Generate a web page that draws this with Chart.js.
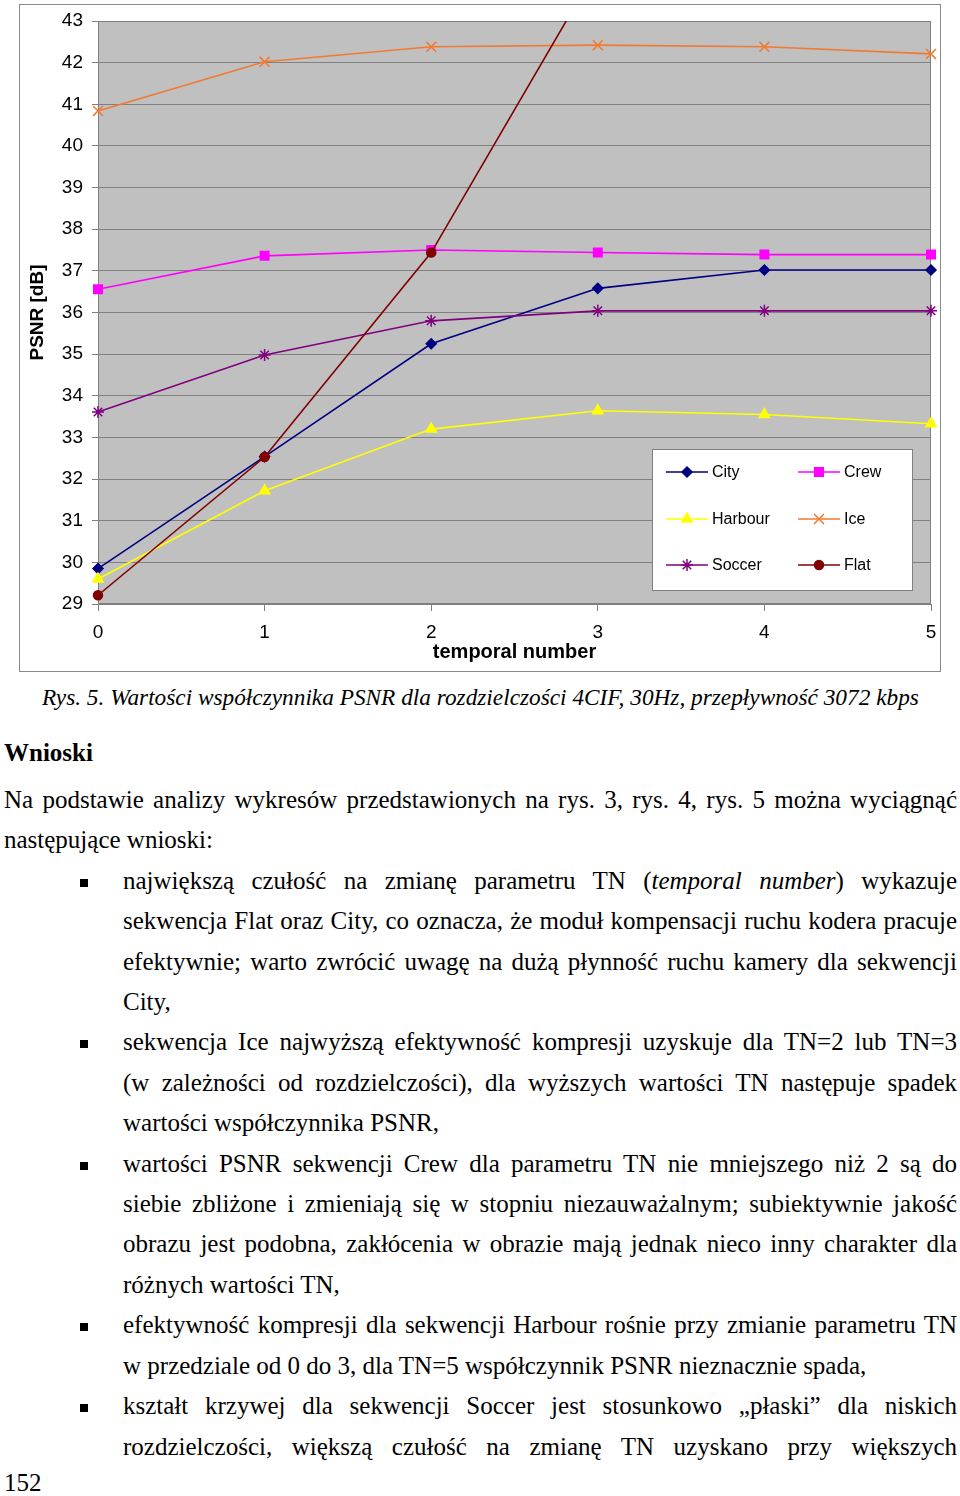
<!DOCTYPE html>
<html lang="pl">
<head>
<meta charset="UTF-8">
<title>PSNR 4CIF</title>
<script src="https://cdn.jsdelivr.net/npm/chart.js"></script>
<style>
  body { margin: 0; width: 960px; height: 1496px; position: relative; background: #fff; color: #000; }
  #chartBox { position: absolute; left: 19px; top: 4px; width: 922px; height: 668px; border: 1px solid #8a8a8a; box-sizing: border-box; background: #fff; }
  .serif { font-family: "Liberation Serif", "Times New Roman", serif; }
  .cap { position: absolute; left: 42px; top: 682px; font-style: italic; font-size: 23.3px; line-height: 30px; white-space: nowrap; }
  .head { position: absolute; left: 4px; top: 733px; font-weight: bold; font-size: 25px; line-height: 40px; }
  .txt { position: absolute; left: 4px; top: 780px; width: 953px; font-size: 25px; line-height: 40.4px; }
  .l { white-space: nowrap; }
  .j { text-align: justify; text-align-last: justify; }
  .in { padding-left: 119px; position: relative; }
  .bul::before { content: ""; position: absolute; left: 76px; top: 18px; width: 8px; height: 8px; background: #000; }
  .page { position: absolute; left: 4px; top: 1463px; font-size: 25px; line-height: 40px; }
</style>
</head>
<body>
<div id="chartBox"><canvas id="psnrChart"></canvas></div>

<div class="cap serif">Rys. 5. Wartości współczynnika PSNR dla rozdzielczości 4CIF, 30Hz, przepływność 3072 kbps</div>
<div class="head serif">Wnioski</div>
<div class="txt serif">
  <div class="l j">Na podstawie analizy wykresów przedstawionych na rys. 3, rys. 4, rys. 5 można wyciągnąć</div>
  <div class="l">następujące wnioski:</div>
  <div class="l j in bul">największą czułość na zmianę parametru TN (<i>temporal number</i>) wykazuje</div>
  <div class="l j in">sekwencja Flat oraz City, co oznacza, że moduł kompensacji ruchu kodera pracuje</div>
  <div class="l j in">efektywnie; warto zwrócić uwagę na dużą płynność ruchu kamery dla sekwencji</div>
  <div class="l in">City,</div>
  <div class="l j in bul">sekwencja Ice najwyższą efektywność kompresji uzyskuje dla TN=2 lub TN=3</div>
  <div class="l j in">(w zależności od rozdzielczości), dla wyższych wartości TN następuje spadek</div>
  <div class="l in">wartości współczynnika PSNR,</div>
  <div class="l j in bul">wartości PSNR sekwencji Crew dla parametru TN nie mniejszego niż 2 są do</div>
  <div class="l j in">siebie zbliżone i zmieniają się w stopniu niezauważalnym; subiektywnie jakość</div>
  <div class="l j in">obrazu jest podobna, zakłócenia w obrazie mają jednak nieco inny charakter dla</div>
  <div class="l in">różnych wartości TN,</div>
  <div class="l j in bul">efektywność kompresji dla sekwencji Harbour rośnie przy zmianie parametru TN</div>
  <div class="l in">w przedziale od 0 do 3, dla TN=5 współczynnik PSNR nieznacznie spada,</div>
  <div class="l j in bul">kształt krzywej dla sekwencji Soccer jest stosunkowo „płaski” dla niskich</div>
  <div class="l j in">rozdzielczości, większą czułość na zmianę TN uzyskano przy większych</div>
</div>
<div class="page serif">152</div>

<script>
  // dane (PSNR w dB dla TN = 0..5)
  const tnLabels = ['0', '1', '2', '3', '4', '5'];
  const city    = [29.85, 32.54, 35.25, 36.58, 37.02, 37.02];
  const crew    = [36.56, 37.36, 37.50, 37.44, 37.39, 37.39];
  const harbour = [29.60, 31.72, 33.20, 33.64, 33.55, 33.33];
  const ice     = [40.84, 42.02, 42.38, 42.42, 42.38, 42.21];
  const soccer  = [33.61, 34.98, 35.80, 36.04, 36.04, 36.04];
  const flat    = [29.21, 32.53, 37.44, 44.30, null, null];

  const sans = '"Liberation Sans", Arial, sans-serif';

  function series(label, data, color, pointStyle, radius, idx) {
    return {
      label: label,
      data: data,
      borderColor: color,
      backgroundColor: color,
      pointBackgroundColor: color,
      pointBorderColor: color,
      borderWidth: 1.6,
      pointStyle: pointStyle,
      pointRadius: radius,
      pointHoverRadius: radius,
      pointBorderWidth: 1.5,
      tension: 0,
      fill: false,
      order: 6 - idx
    };
  }

  // szare tło obszaru wykresu + ramka
  const plotBg = {
    id: 'plotBg',
    beforeDraw(chart) {
      const { ctx, chartArea: a } = chart;
      ctx.save();
      ctx.fillStyle = '#c0c0c0';
      ctx.fillRect(a.left, a.top, a.right - a.left, a.bottom - a.top);
      ctx.restore();
    },
    beforeDatasetsDraw(chart) {
      const { ctx, chartArea: a } = chart;
      ctx.save();
      ctx.strokeStyle = '#808080';
      ctx.lineWidth = 1;
      ctx.strokeRect(a.left + 0.5, a.top + 0.5, a.right - a.left - 1, a.bottom - a.top - 1);
      ctx.restore();
    }
  };

  // legenda w ramce, 2 kolumny
  const boxLegend = {
    id: 'boxLegend',
    afterDatasetsDraw(chart) {
      const { ctx, chartArea: a } = chart;
      const w = 261, h = 142;
      const x0 = a.right - 18 - w, y0 = a.bottom - 13 - h;
      ctx.save();
      ctx.fillStyle = '#fff';
      ctx.fillRect(x0, y0, w, h);
      ctx.strokeStyle = '#808080';
      ctx.lineWidth = 1;
      ctx.strokeRect(x0 + 0.5, y0 + 0.5, w - 1, h - 1);
      const rows = [23, 70, 116];
      chart.data.datasets.forEach((ds, i) => {
        const lx = x0 + (i % 2 ? 146 : 14);
        const ly = y0 + rows[Math.floor(i / 2)];
        ctx.strokeStyle = ds.borderColor;
        ctx.fillStyle = ds.borderColor;
        ctx.lineWidth = 1.6;
        ctx.beginPath();
        ctx.moveTo(lx, ly);
        ctx.lineTo(lx + 42, ly);
        ctx.stroke();
        ctx.lineWidth = ds.pointBorderWidth;
        Chart.helpers.drawPoint(ctx, { pointStyle: ds.pointStyle, rotation: 0, radius: ds.pointRadius, borderWidth: ds.pointBorderWidth }, lx + 21, ly);
        ctx.fillStyle = '#000';
        ctx.font = '16px ' + sans;
        ctx.textBaseline = 'middle';
        ctx.textAlign = 'left';
        ctx.fillText(ds.label, lx + 46, ly + 1);
      });
      ctx.restore();
    }
  };

  new Chart(document.getElementById('psnrChart'), {
    type: 'line',
    data: {
      labels: tnLabels,
      datasets: [
        series('City', city, '#000080', 'rectRot', 5, 0),
        series('Crew', crew, '#ff00ff', 'rect', 6, 1),
        series('Harbour', harbour, '#ffff00', 'triangle', 6, 2),
        series('Ice', ice, '#f07a30', 'crossRot', 7, 3),
        series('Soccer', soccer, '#800080', 'star', 6, 4),
        series('Flat', flat, '#800000', 'circle', 4.5, 5)
      ]
    },
    options: {
      responsive: true,
      maintainAspectRatio: false,
      animation: false,
      spanGaps: false,
      layout: { padding: { top: 16, right: 9, left: 0, bottom: 0 } },
      plugins: {
        legend: { display: false },
        tooltip: { enabled: false }
      },
      scales: {
        x: {
          type: 'category',
          offset: false,
          grid: { drawOnChartArea: false, drawTicks: true, tickLength: 7, color: '#808080', tickColor: '#808080' },
          border: { color: '#808080' },
          ticks: { color: '#000', padding: 10, font: { family: sans, size: 19 }, maxRotation: 0 },
          title: { display: true, text: 'temporal number', color: '#000', font: { family: sans, size: 20, weight: 'bold' }, padding: { top: 0, bottom: 7 } },
          afterFit(scale) {
            scale.height = 67;
            scale.paddingLeft = 0;
            scale.paddingRight = 0;
          }
        },
        y: {
          min: 29,
          max: 43,
          grid: { color: '#808080', tickColor: '#808080', tickLength: 6 },
          border: { color: '#808080' },
          ticks: { stepSize: 1, color: '#000', padding: 9, font: { family: sans, size: 19 } },
          title: { display: true, text: 'PSNR [dB]', color: '#000', font: { family: sans, size: 19, weight: 'bold' }, padding: { top: 6, bottom: 0 } },
          afterFit(scale) {
            scale.width = 78;
            scale.paddingTop = 0;
            scale.paddingBottom = 0;
          }
        }
      }
    },
    plugins: [plotBg, boxLegend]
  });
</script>
</body>
</html>
